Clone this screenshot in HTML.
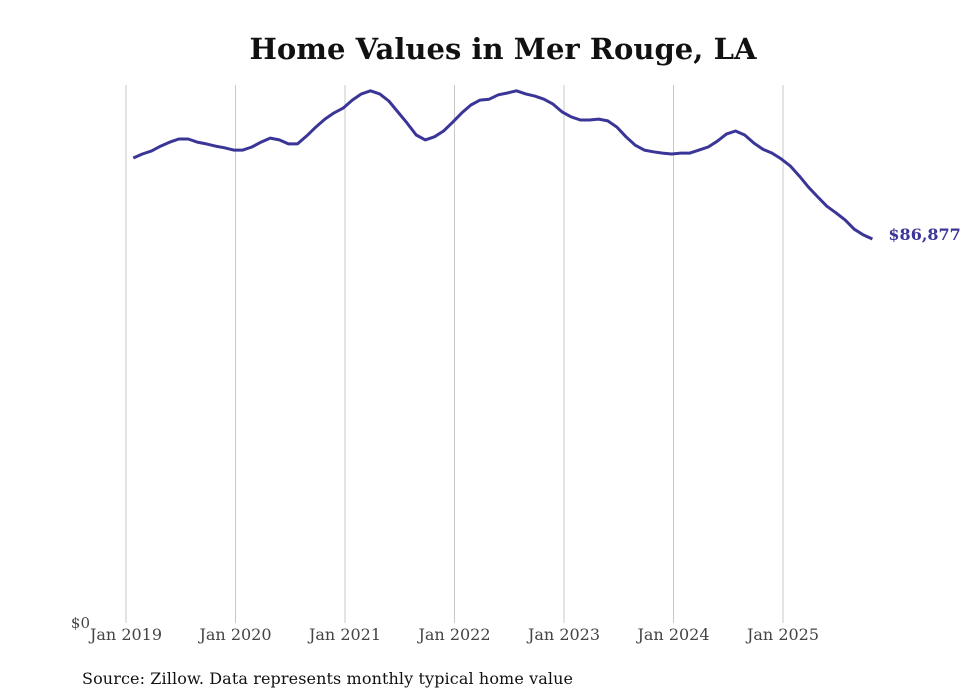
<!DOCTYPE html>
<html><head><meta charset="utf-8"><style>
body{margin:0;background:#fff;}
svg{display:block;font-family:"DejaVu Serif","Liberation Serif",serif;}
</style></head><body>
<svg id="chart" width="980" height="699">
<text x="503" y="59" text-anchor="middle" font-size="29" font-weight="bold" fill="#111" textLength="507">Home Values in Mer Rouge, LA</text>
<g id="grid"></g>
<g id="xticks"></g>
<text x="90" y="628" text-anchor="end" font-size="15" fill="#444">$0</text>
<path id="line" fill="none" stroke="#3a3597" stroke-width="3" stroke-linejoin="round"/>
<text id="endlabel" font-size="16" font-weight="bold" fill="#3a3597"></text>
<text x="82" y="684" font-size="16" fill="#111" textLength="491">Source: Zillow. Data represents monthly typical home value</text>
</svg>
<script>
const tickLabels=["Jan 2019","Jan 2020","Jan 2021","Jan 2022","Jan 2023","Jan 2024","Jan 2025"];
const startYear=2019;
const values=[105200,106100,106800,107900,108800,109500,109500,108800,108400,107900,107500,107000,
107000,107700,108800,109700,109300,108400,108400,110200,112200,114000,115400,116500,
118300,119700,120400,119700,118100,115600,113100,110400,109300,110000,111300,113300,
115400,117200,118300,118500,119500,119900,120400,119700,119200,118500,117400,115600,
114500,113800,113800,114000,113600,112200,110000,108100,107000,106600,106300,106100,
106300,106300,107000,107700,109000,110600,111300,110400,108600,107200,106300,105000,
103400,101100,98600,96400,94300,92800,91200,89100,87800,86877];
const x0=126,pxPerYear=109.5,y0=623,pxPerDollar=384/86877;
const xm=m=>x0+pxPerYear*m/12;
const y=v=>y0-v*pxPerDollar;
const NS="http://www.w3.org/2000/svg";
const grid=document.getElementById('grid'),xt=document.getElementById('xticks');
tickLabels.forEach((t,i)=>{
 const gx=xm(i*12);
 const l=document.createElementNS(NS,'line');
 l.setAttribute('x1',gx);l.setAttribute('x2',gx);l.setAttribute('y1',85);l.setAttribute('y2',623);
 l.setAttribute('stroke','#c8c8c8');l.setAttribute('stroke-width','1');
 
 
 grid.appendChild(l);
 const tx=document.createElementNS(NS,'text');
 tx.setAttribute('x',gx);tx.setAttribute('y',640);tx.setAttribute('text-anchor','middle');
 tx.setAttribute('font-size','16');tx.setAttribute('fill','#444');tx.textContent=t;
 
 
 xt.appendChild(tx);
});
let d='';
values.forEach((v,i)=>{d+=(i?'L':'M')+xm(i+0.8).toFixed(1)+','+y(v).toFixed(1);});
document.getElementById('line').setAttribute('d',d);
const last=values[values.length-1];
const el=document.getElementById('endlabel');
el.setAttribute('x',xm(values.length-1+0.8)+16);el.setAttribute('y',y(last)+1);
el.textContent='$'+last.toLocaleString('en-US');
</script>
</body></html>
